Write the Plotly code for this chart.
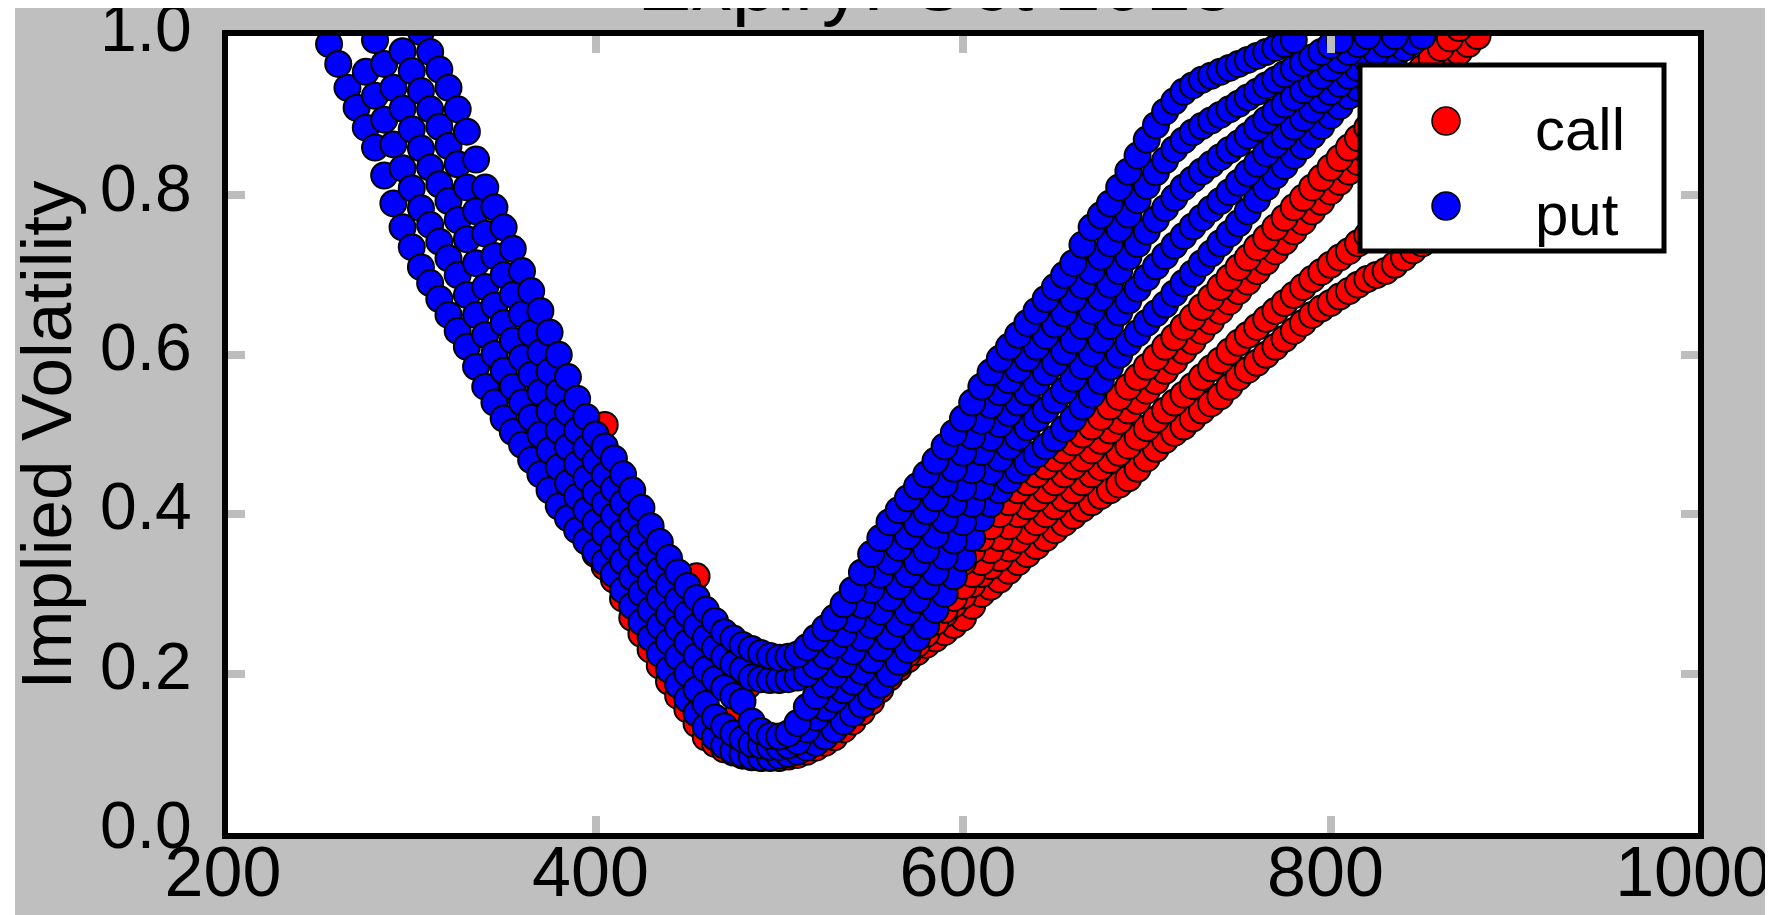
import plotly.graph_objects as go

# ---------------- data ----------------
# put curves (blue): strikes on a 5-point grid, implied volatility per strike
P1_K = list(range(255, 851, 5))
P1_IV = [0.99, 0.965, 0.935, 0.91, 0.885, 0.86, 0.825, 0.79, 0.76, 0.735,
         0.71, 0.69, 0.67, 0.65, 0.63, 0.61, 0.585, 0.56, 0.54, 0.52,
         0.503, 0.487, 0.468, 0.45, 0.43, 0.41, 0.395, 0.38, 0.366, 0.353,
         0.34, 0.325, 0.305, 0.285, 0.265, 0.245, 0.225, 0.205, 0.186, 0.168,
         0.15, 0.133, 0.12, 0.11, 0.103, 0.099, 0.096, 0.095, 0.095, 0.097,
         0.099, 0.102, 0.107, 0.113, 0.121, 0.13, 0.14, 0.15, 0.161, 0.172,
         0.186, 0.2, 0.215, 0.23, 0.245, 0.26, 0.28, 0.3, 0.322, 0.345,
         0.37, 0.395, 0.413, 0.43, 0.443, 0.455, 0.465, 0.475, 0.485, 0.495,
         0.507, 0.52, 0.535, 0.55, 0.567, 0.585, 0.6, 0.615, 0.627, 0.64,
         0.652, 0.663, 0.677, 0.69, 0.702, 0.715, 0.727, 0.74, 0.752, 0.765,
         0.78, 0.795, 0.81, 0.825, 0.837, 0.85, 0.862, 0.875, 0.887, 0.9,
         0.912, 0.925, 0.935, 0.945, 0.955, 0.965, 0.975, 0.985, 0.993, 1.0]

P2_K = list(range(275, 836, 5))
P2_IV = [0.955, 0.925, 0.895, 0.864, 0.834, 0.809, 0.784, 0.763, 0.742, 0.721,
         0.70, 0.675, 0.65, 0.625, 0.601, 0.58, 0.56, 0.54, 0.521, 0.5,
         0.48, 0.459, 0.439, 0.422, 0.405, 0.39, 0.376, 0.358, 0.341, 0.321,
         0.301, 0.28, 0.26, 0.24, 0.221, 0.2, 0.18, 0.162, 0.145, 0.134,
         0.125, 0.118, 0.112, 0.11, 0.108, 0.108, 0.11, 0.115, 0.13, 0.145,
         0.157, 0.168, 0.179, 0.19, 0.203, 0.217, 0.232, 0.247, 0.263, 0.278,
         0.293, 0.31, 0.327, 0.347, 0.367, 0.39, 0.413, 0.434, 0.454, 0.47,
         0.485, 0.497, 0.509, 0.52, 0.531, 0.543, 0.555, 0.57, 0.586, 0.602,
         0.619, 0.636, 0.653, 0.668, 0.683, 0.697, 0.711, 0.724, 0.737, 0.749,
         0.761, 0.772, 0.783, 0.793, 0.804, 0.816, 0.828, 0.84, 0.853, 0.864,
         0.875, 0.886, 0.897, 0.908, 0.92, 0.93, 0.94, 0.95, 0.96, 0.97,
         0.98, 0.99, 1.0]

P3_K = list(range(280, 821, 5))
P3_IV = [0.995, 0.965, 0.935, 0.909, 0.883, 0.859, 0.835, 0.814, 0.793, 0.769,
         0.745, 0.715, 0.685, 0.662, 0.64, 0.618, 0.596, 0.575, 0.553, 0.529,
         0.505, 0.484, 0.463, 0.445, 0.427, 0.413, 0.398, 0.378, 0.358, 0.337,
         0.315, 0.295, 0.275, 0.257, 0.239, 0.222, 0.205, 0.193, 0.182, 0.172,
         0.165, 0.14, 0.128, 0.122, 0.121, 0.125, 0.138, 0.158, 0.172, 0.186,
         0.199, 0.212, 0.228, 0.245, 0.261, 0.278, 0.295, 0.31, 0.325, 0.34,
         0.355, 0.374, 0.393, 0.413, 0.433, 0.455, 0.478, 0.496, 0.513, 0.527,
         0.54, 0.553, 0.565, 0.578, 0.59, 0.604, 0.618, 0.636, 0.655, 0.672,
         0.688, 0.705, 0.723, 0.739, 0.755, 0.77, 0.784, 0.797, 0.81, 0.82,
         0.83, 0.839, 0.848, 0.857, 0.865, 0.875, 0.885, 0.895, 0.905, 0.914,
         0.923, 0.932, 0.94, 0.95, 0.96, 0.97, 0.98, 0.99, 1.0]

P4_K = list(range(295, 806, 5))
P4_IV = [0.981, 0.956, 0.931, 0.908, 0.886, 0.862, 0.839, 0.81, 0.78, 0.752,
         0.724, 0.7, 0.675, 0.651, 0.627, 0.603, 0.579, 0.553, 0.528, 0.505,
         0.483, 0.466, 0.449, 0.432, 0.414, 0.393, 0.372, 0.351, 0.33, 0.311,
         0.292, 0.275, 0.259, 0.245, 0.232, 0.221, 0.212, 0.205, 0.195, 0.193,
         0.192, 0.192, 0.193, 0.195, 0.2, 0.21, 0.223, 0.236, 0.25, 0.268,
         0.286, 0.305, 0.324, 0.341, 0.358, 0.373, 0.388, 0.404, 0.42, 0.438,
         0.457, 0.477, 0.498, 0.517, 0.537, 0.553, 0.568, 0.582, 0.596, 0.61,
         0.624, 0.638, 0.652, 0.67, 0.687, 0.705, 0.723, 0.74, 0.758, 0.776,
         0.794, 0.812, 0.829, 0.844, 0.858, 0.869, 0.879, 0.887, 0.894, 0.901,
         0.908, 0.915, 0.923, 0.93, 0.938, 0.945, 0.952, 0.959, 0.966, 0.973,
         0.98, 0.988, 0.995]

P5_K = list(range(305, 781, 5))
P5_IV = [1.005, 0.98, 0.958, 0.935, 0.908, 0.88, 0.845, 0.81, 0.785, 0.76,
         0.733, 0.705, 0.68, 0.655, 0.628, 0.6, 0.572, 0.545, 0.522, 0.5,
         0.485, 0.47, 0.45, 0.43, 0.408, 0.385, 0.365, 0.345, 0.327, 0.31,
         0.295, 0.28, 0.266, 0.252, 0.244, 0.236, 0.231, 0.226, 0.222, 0.22,
         0.221, 0.224, 0.233, 0.245, 0.257, 0.27, 0.287, 0.305, 0.327, 0.35,
         0.37, 0.39, 0.405, 0.42, 0.435, 0.45, 0.467, 0.485, 0.502, 0.52,
         0.54, 0.56, 0.578, 0.595, 0.61, 0.625, 0.64, 0.655, 0.67, 0.685,
         0.7, 0.715, 0.738, 0.76, 0.775, 0.79, 0.81, 0.83, 0.85, 0.87,
         0.888, 0.905, 0.918, 0.93, 0.938, 0.945, 0.95, 0.955, 0.96, 0.965,
         0.97, 0.975, 0.98, 0.985, 0.99, 0.995]

# call curves (red)
CB_K = list(range(400, 881, 5))
CB_IV = [0.35, 0.334, 0.318, 0.294, 0.27, 0.25, 0.23, 0.21, 0.19, 0.172,
         0.155, 0.137, 0.12, 0.112, 0.105, 0.101, 0.097, 0.095, 0.094, 0.094,
         0.094, 0.096, 0.098, 0.102, 0.107, 0.113, 0.12, 0.13, 0.14, 0.152,
         0.165, 0.18, 0.195, 0.207, 0.218, 0.227, 0.236, 0.244, 0.252, 0.261,
         0.27, 0.285, 0.3, 0.309, 0.318, 0.329, 0.34, 0.35, 0.36, 0.37,
         0.38, 0.389, 0.398, 0.407, 0.415, 0.423, 0.43, 0.437, 0.445, 0.457,
         0.47, 0.482, 0.493, 0.502, 0.51, 0.52, 0.53, 0.539, 0.548, 0.56,
         0.572, 0.581, 0.59, 0.6, 0.61, 0.62, 0.63, 0.64, 0.65, 0.658,
         0.665, 0.673, 0.68, 0.688, 0.695, 0.7, 0.705, 0.713, 0.722, 0.731,
         0.74, 0.75, 0.76, 0.77, 0.78, 0.79, 0.8]

CB2_K = list(range(560, 881, 5))
CB2_IV = [0.21, 0.222, 0.235, 0.245, 0.255, 0.265, 0.275, 0.287, 0.298, 0.312,
          0.325, 0.335, 0.345, 0.357, 0.368, 0.379, 0.39, 0.4, 0.41, 0.42,
          0.43, 0.44, 0.45, 0.459, 0.468, 0.477, 0.486, 0.497, 0.508, 0.519,
          0.53, 0.54, 0.55, 0.561, 0.572, 0.583, 0.593, 0.604, 0.615, 0.625,
          0.635, 0.645, 0.655, 0.665, 0.675, 0.685, 0.695, 0.704, 0.713, 0.722,
          0.73, 0.74, 0.75, 0.758, 0.765, 0.775, 0.785, 0.795, 0.805, 0.815,
          0.825, 0.835, 0.845, 0.855, 0.865]

CA_K = [405, 455, 478, 483] + list(range(560, 881, 5))
CA_IV = [0.512, 0.322, 0.153, 0.185,
         0.2, 0.212, 0.225, 0.237, 0.25, 0.265, 0.28, 0.295, 0.31, 0.325,
         0.34, 0.355, 0.37, 0.385, 0.4, 0.41, 0.42, 0.43, 0.44, 0.45,
         0.46, 0.47, 0.48, 0.492, 0.505, 0.517, 0.53, 0.542, 0.555, 0.567,
         0.58, 0.592, 0.605, 0.617, 0.63, 0.642, 0.655, 0.667, 0.68, 0.692,
         0.705, 0.717, 0.73, 0.742, 0.755, 0.767, 0.78, 0.792, 0.805, 0.817,
         0.83, 0.842, 0.855, 0.867, 0.88, 0.892, 0.905, 0.917, 0.93, 0.942,
         0.955, 0.967, 0.98, 0.99, 1.0]

CA2_K = list(range(600, 871, 5))
CA2_IV = [0.34, 0.355, 0.37, 0.385, 0.4, 0.415, 0.43, 0.44, 0.45, 0.46,
          0.47, 0.48, 0.49, 0.5, 0.51, 0.522, 0.535, 0.547, 0.56, 0.572,
          0.585, 0.597, 0.61, 0.622, 0.635, 0.647, 0.66, 0.672, 0.685, 0.697,
          0.71, 0.722, 0.735, 0.747, 0.76, 0.772, 0.785, 0.797, 0.81, 0.822,
          0.835, 0.847, 0.86, 0.872, 0.885, 0.897, 0.91, 0.922, 0.935, 0.947,
          0.96, 0.972, 0.985, 0.997, 1.01]

X_TICKS = [200, 400, 600, 800, 1000]
Y_TICKS = [0.0, 0.2, 0.4, 0.6, 0.8, 1.0]
Y_TICK_TEXT = ["0.0", "0.2", "0.4", "0.6", "0.8", "1.0"]
TITLE = "Expiry: Oct 2015"
Y_LABEL = "Implied Volatility"
SERIES_NAMES = ["call", "put"]
SERIES_COLORS = ["#ff0000", "#0000ff"]

# ---------------- build ----------------
def join(pairs):
    xs, ys = [], []
    for name, k, v in pairs:
        if len(k) != len(v):
            raise ValueError(f"{name}: {len(k)} strikes vs {len(v)} values")
        xs += k
        ys += v
    return xs, ys

call_x, call_y = join([("CB", CB_K, CB_IV), ("CB2", CB2_K, CB2_IV),
                       ("CA", CA_K, CA_IV), ("CA2", CA2_K, CA2_IV)])
put_x, put_y = join([("P1", P1_K, P1_IV), ("P2", P2_K, P2_IV), ("P3", P3_K, P3_IV),
                     ("P4", P4_K, P4_IV), ("P5", P5_K, P5_IV)])

FONT = "Liberation Sans, Arial, Helvetica, sans-serif"
W, H = 1773, 915
L, R, T, B = 220, 83, 28, 90
PW, PH = W - L - R, H - T - B

def px_to_paper(X, Y):
    return (X - L) / PW, (H - B - Y) / PH

fig = go.Figure()
for name, xs, ys, col in [(SERIES_NAMES[0], call_x, call_y, SERIES_COLORS[0]),
                          (SERIES_NAMES[1], put_x, put_y, SERIES_COLORS[1])]:
    fig.add_trace(go.Scatter(
        x=xs, y=ys, mode="markers", name=name, showlegend=False,
        marker=dict(color=col, size=26, line=dict(color="black", width=2)),
    ))

axis_common = dict(
    showgrid=False, zeroline=False, showline=True, linewidth=6, linecolor="black",
    mirror="allticks", ticks="inside", ticklen=17, tickwidth=8, tickcolor="#bdbdbd",
    ticklabeloverflow="allow",
)
fig.update_xaxes(range=[200, 1000], tickvals=X_TICKS, ticklabelstandoff=-27, ticklabelshift=-5,
                 tickfont=dict(family=FONT, size=70, color="black"), **axis_common)
fig.update_yaxes(range=[0, 1.00001], tickvals=Y_TICKS, ticktext=Y_TICK_TEXT,
                 ticklabelstandoff=17, ticklabelshift=-8,
                 tickfont=dict(family=FONT, size=66, color="black"), **axis_common)

shapes = []
# thin white strip at the very left edge of the image
x0s, _ = px_to_paper(0, 0)
x1s, _ = px_to_paper(7, 0)
_, y0s = px_to_paper(0, H)
_, y1s = px_to_paper(0, 0)
shapes.append(dict(type="rect", xref="paper", yref="paper", x0=x0s, x1=x1s, y0=y0s, y1=y1s,
                   fillcolor="white", line=dict(width=0), layer="below"))
# legend box
lx0, ly0 = px_to_paper(1352, 243)
lx1, ly1 = px_to_paper(1656, 57)
shapes.append(dict(type="rect", xref="paper", yref="paper", x0=lx0, x1=lx1, y0=ly0, y1=ly1,
                   fillcolor="white", line=dict(color="black", width=5), layer="above"))
annotations = []
# y axis label
yl_x, yl_y = px_to_paper(38, (T + H - B) / 2)
annotations.append(dict(xref="paper", yref="paper", x=yl_x, y=yl_y, xanchor="center", yanchor="middle",
                        text=Y_LABEL, textangle=-90, showarrow=False,
                        font=dict(family=FONT, size=71, color="black")))
for i, (name, col) in enumerate(zip(SERIES_NAMES, SERIES_COLORS)):
    mx, my = px_to_paper(1438, 113 + 85 * i)
    shapes.append(dict(type="circle", xref="paper", yref="paper", xsizemode="pixel", ysizemode="pixel",
                       xanchor=mx, yanchor=my, x0=-14, x1=14, y0=-14, y1=14,
                       fillcolor=col, line=dict(color="black", width=1.5), layer="above"))
    tx, ty = px_to_paper(1525, 122 + 85 * i)
    annotations.append(dict(xref="paper", yref="paper", x=tx, y=ty, xanchor="left", yanchor="middle",
                            text=name, showarrow=False, font=dict(family=FONT, size=60, color="black")))

fig.update_layout(
    width=W, height=H, margin=dict(l=L, r=R, t=T, b=B, autoexpand=False),
    paper_bgcolor="#bfbfbf", plot_bgcolor="white", showlegend=False,
    title=dict(text=TITLE, x=0.482, xref="paper", xanchor="center", yref="paper", y=1, yanchor="bottom",
               pad=dict(b=26), font=dict(family=FONT, size=81, color="black")),
    shapes=shapes, annotations=annotations,
)

fig.write_html("out.html")
